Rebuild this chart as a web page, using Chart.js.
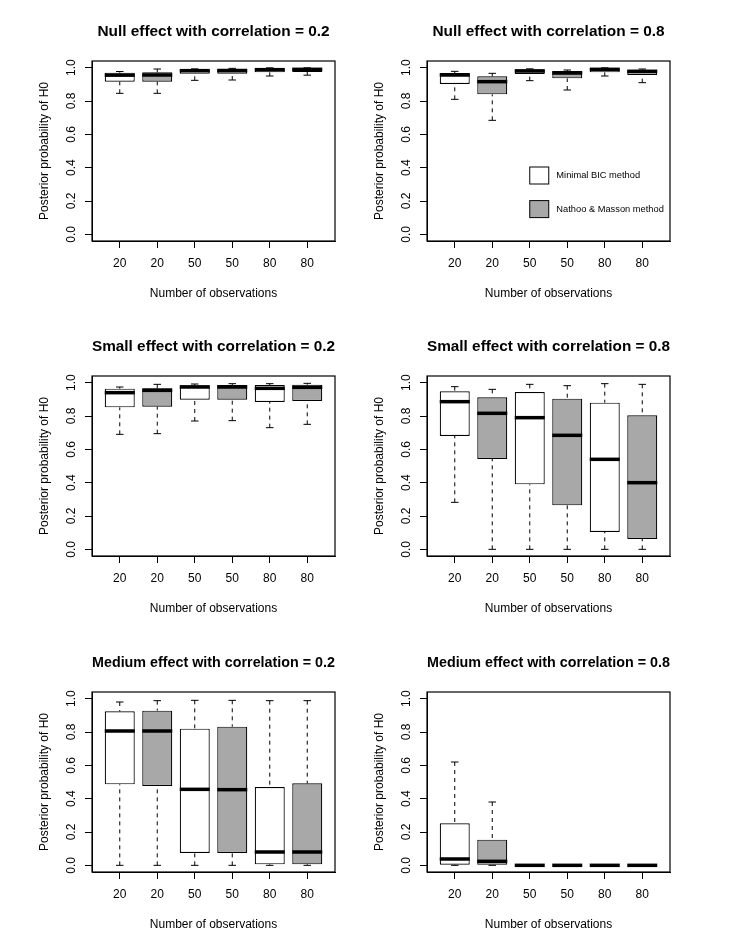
<!DOCTYPE html>
<html>
<head>
<meta charset="utf-8">
<title>Posterior probability of H0</title>
<script src="https://cdn.jsdelivr.net/npm/chart.js@4.4.1/dist/chart.umd.min.js"></script>
<style>
  body { margin: 0; background: #fff; }
  #page { position: relative; width: 732px; height: 947px; overflow: hidden; }
  #page canvas { position: absolute; }
</style>
</head>
<body>
<div id="page"></div>
<script>
// Box positions, tick labels and methods
var positions = [1, 2, 3, 4, 5, 6];
var nObs = ["20", "20", "50", "50", "80", "80"];
var yTicks = [0, 0.2, 0.4, 0.6, 0.8, 1.0];
var methods = ["Minimal BIC method", "Nathoo & Masson method"];
var methodFill = ["#ffffff", "#a8a8a8"];
var titles = [
  "Null effect with correlation = 0.2",
  "Null effect with correlation = 0.8",
  "Small effect with correlation = 0.2",
  "Small effect with correlation = 0.8",
  "Medium effect with correlation = 0.2",
  "Medium effect with correlation = 0.8"
];

// one row per box: [lower whisker, Q1, median, Q3, upper whisker]
var nullCor02 = [
  [0.846, 0.916, 0.955, 0.970, 0.977],
  [0.846, 0.916, 0.956, 0.972, 0.992],
  [0.924, 0.964, 0.982, 0.989, 0.993],
  [0.926, 0.964, 0.983, 0.990, 0.996],
  [0.950, 0.972, 0.988, 0.995, 0.999],
  [0.955, 0.974, 0.990, 0.996, 0.999]
];
var nullCor08 = [
  [0.810, 0.902, 0.956, 0.968, 0.978],
  [0.684, 0.840, 0.916, 0.948, 0.966],
  [0.922, 0.962, 0.980, 0.990, 0.993],
  [0.866, 0.936, 0.968, 0.980, 0.986],
  [0.950, 0.972, 0.990, 0.996, 0.999],
  [0.910, 0.956, 0.978, 0.988, 0.992]
];
var smallCor02 = [
  [0.690, 0.852, 0.940, 0.964, 0.974],
  [0.694, 0.856, 0.954, 0.966, 0.990],
  [0.770, 0.898, 0.974, 0.984, 0.992],
  [0.772, 0.898, 0.974, 0.986, 0.994],
  [0.730, 0.884, 0.966, 0.986, 0.994],
  [0.750, 0.890, 0.972, 0.988, 0.996]
];
var smallCor08 = [
  [0.282, 0.680, 0.886, 0.948, 0.976],
  [0.000, 0.542, 0.816, 0.912, 0.960],
  [0.000, 0.390, 0.790, 0.944, 0.990],
  [0.000, 0.264, 0.684, 0.904, 0.982],
  [0.000, 0.104, 0.540, 0.880, 0.994],
  [0.000, 0.062, 0.400, 0.804, 0.990]
];
var mediumCor02 = [
  [0.000, 0.486, 0.806, 0.924, 0.980],
  [0.000, 0.476, 0.806, 0.928, 0.988],
  [0.000, 0.074, 0.456, 0.820, 0.990],
  [0.000, 0.074, 0.454, 0.832, 0.990],
  [0.000, 0.006, 0.080, 0.470, 0.988],
  [0.000, 0.006, 0.080, 0.492, 0.988]
];
var mediumCor08 = [
  [0.000, 0.004, 0.038, 0.252, 0.620],
  [0.000, 0.000, 0.024, 0.154, 0.380],
  [0.000, 0.000, 0.000, 0.002, 0.004],
  [0.000, 0.000, 0.000, 0.002, 0.004],
  [0.000, 0.000, 0.000, 0.002, 0.004],
  [0.000, 0.000, 0.000, 0.002, 0.004]
];
var panels = [nullCor02, nullCor08, smallCor02, smallCor08, mediumCor02, mediumCor08];

// page layout (plot boxes)
var colLeft = [92, 427];
var rowTop = [61, 376, 692];
var plotW = 243, plotH = 180;
var padL = 70, padT = 50, padR = 10, padB = 65;

var FONT = "'Liberation Sans', Arial, Helvetica, sans-serif";
Chart.defaults.font.family = FONT;
Chart.defaults.color = "#000";

// whiskers, staples, medians, frame and legend
function boxParts(stats, withLegend) {
  return {
    id: "boxParts",
    beforeDatasetsDraw: function(chart) {
      var ctx = chart.ctx, ys = chart.scales.y;
      var bars = chart.getDatasetMeta(0).data;
      ctx.save();
      ctx.strokeStyle = "#000";
      ctx.lineWidth = 1;
      for (var j = 0; j < bars.length; j++) {
        var s = stats[j], x = bars[j].x, w = bars[j].width;
        ctx.setLineDash([4, 4]);
        ctx.beginPath();
        ctx.moveTo(x, ys.getPixelForValue(s[0]));
        ctx.lineTo(x, ys.getPixelForValue(s[1]));
        ctx.moveTo(x, ys.getPixelForValue(s[4]));
        ctx.lineTo(x, ys.getPixelForValue(s[3]));
        ctx.stroke();
        ctx.setLineDash([]);
        ctx.beginPath();
        [s[0], s[4]].forEach(function(v) {
          var py = ys.getPixelForValue(v);
          ctx.moveTo(x - w / 8, py);
          ctx.lineTo(x + w / 8, py);
        });
        ctx.stroke();
      }
      ctx.restore();
    },
    afterDatasetsDraw: function(chart) {
      var ctx = chart.ctx, ys = chart.scales.y;
      var bars = chart.getDatasetMeta(0).data;
      ctx.save();
      ctx.strokeStyle = "#000";
      ctx.lineWidth = 3.5;
      ctx.lineCap = "butt";
      for (var j = 0; j < bars.length; j++) {
        var py = ys.getPixelForValue(stats[j][2]);
        ctx.beginPath();
        ctx.moveTo(bars[j].x - bars[j].width / 2, py);
        ctx.lineTo(bars[j].x + bars[j].width / 2, py);
        ctx.stroke();
      }
      ctx.restore();
    },
    afterDraw: function(chart) {
      var ctx = chart.ctx, a = chart.chartArea;
      ctx.save();
      ctx.strokeStyle = "#000";
      ctx.lineWidth = 1.2;
      ctx.strokeRect(a.left, a.top, a.right - a.left, a.bottom - a.top);
      if (withLegend) {
        var lx = chart.scales.x.getPixelForValue(3);
        var ly = chart.scales.y.getPixelForValue(0.404);
        ctx.lineWidth = 1;
        ctx.font = "9.3px " + FONT;
        ctx.textBaseline = "middle";
        ctx.textAlign = "left";
        methods.forEach(function(m, k) {
          var top = ly + k * 33.6;
          ctx.fillStyle = methodFill[k];
          ctx.fillRect(lx, top, 19, 17);
          ctx.strokeRect(lx, top, 19, 17);
          ctx.fillStyle = "#000";
          ctx.fillText(m, lx + 26.6, top + 8.5);
        });
      }
      ctx.restore();
    }
  };
}

var page = document.getElementById("page");

panels.forEach(function(stats, i) {
  var col = i % 2, row = Math.floor(i / 2);
  var canvas = document.createElement("canvas");
  canvas.width = padL + plotW + padR;
  canvas.height = padT + plotH + padB;
  canvas.style.left = (colLeft[col] - padL) + "px";
  canvas.style.top = (rowTop[row] - padT) + "px";
  page.appendChild(canvas);

  new Chart(canvas, {
    type: "bar",
    data: {
      datasets: [{
        data: stats.map(function(s, j) { return { x: positions[j], y: [s[1], s[3]] }; }),
        backgroundColor: positions.map(function(p, j) { return methodFill[j % 2]; }),
        borderColor: "#000",
        borderWidth: 1.2,
        borderSkipped: false,
        barPercentage: 0.8,
        categoryPercentage: 1
      }]
    },
    options: {
      responsive: false,
      animation: false,
      events: [],
      layout: { padding: { left: 0, top: 0, right: padR, bottom: 0 } },
      plugins: {
        legend: { display: false },
        tooltip: { enabled: false },
        title: {
          display: true,
          text: titles[i],
          fullSize: false,
          font: { size: 15.4, weight: "bold" },
          padding: { top: 11.26, bottom: 20.26 }
        }
      },
      scales: {
        x: {
          type: "linear",
          min: 0.26,
          max: 6.74,
          bounds: "data",
          offset: false,
          afterBuildTicks: function(s) { s.ticks = positions.map(function(v) { return { value: v }; }); },
          afterFit: function(s) { s.height = padB; },
          ticks: {
            autoSkip: false, minRotation: 0, maxRotation: 0, padding: 8.8,
            font: { size: 12 },
            callback: function(v, j) { return nObs[j]; }
          },
          grid: { offset: false, drawOnChartArea: false, drawTicks: true, tickLength: 7, color: "#000" },
          border: { display: true, color: "#000" },
          title: { display: true, text: "Number of observations", font: { size: 12 }, padding: { top: 0, bottom: 5.3 } }
        },
        y: {
          min: -0.04,
          max: 1.04,
          bounds: "data",
          afterBuildTicks: function(s) { s.ticks = yTicks.map(function(v) { return { value: v }; }); },
          afterFit: function(s) { s.width = padL; },
          ticks: {
            minRotation: 90, maxRotation: 90, crossAlign: "center", padding: 4.7,
            font: { size: 12 },
            callback: function(v) { return v.toFixed(1); }
          },
          grid: { drawOnChartArea: false, drawTicks: true, tickLength: 7, color: "#000" },
          border: { display: true, color: "#000" },
          title: { display: true, text: "Posterior probability of H0", font: { size: 12 }, padding: { top: 15.8, bottom: 0 } }
        }
      }
    },
    plugins: [boxParts(stats, i === 1)]
  });
});
</script>
</body>
</html>
